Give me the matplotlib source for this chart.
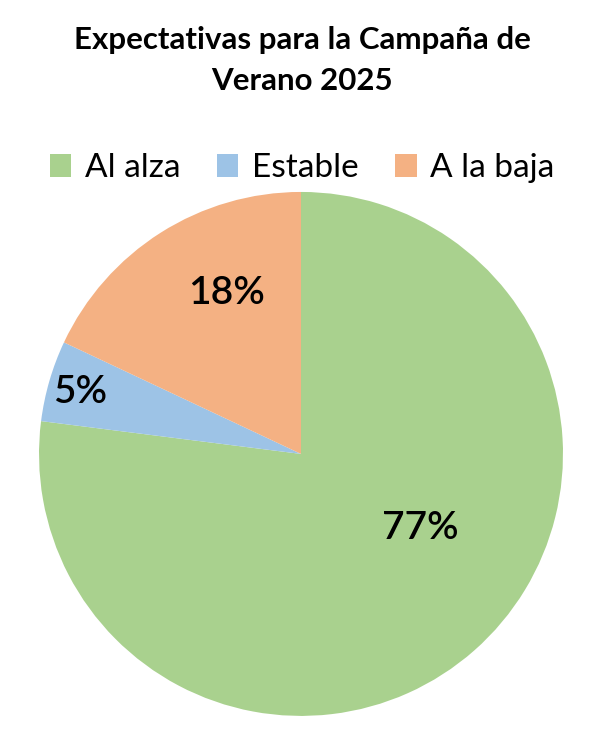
import matplotlib
matplotlib.use("Agg")
import matplotlib.pyplot as plt

categories = ["Al alza", "Estable", "A la baja"]
values = [77, 5, 18]
colors = ["#A9D18E", "#9DC3E6", "#F4B183"]
title = "Expectativas para la Campaña de\nVerano 2025"

fig = plt.figure(figsize=(6.04, 7.35), dpi=100)
fig.patch.set_facecolor("white")
ax = fig.add_axes([0.0646, 0.0259, 0.8675, 0.713])

wedges, texts, autotexts = ax.pie(
    values, colors=colors, startangle=90, counterclock=False,
    autopct=lambda p: f"{p:.0f}%", pctdistance=0.6,
    wedgeprops=dict(edgecolor="none"),
    textprops=dict(fontsize=28, family="Lato", fontweight="semibold", color="black"))
ax.set_aspect("equal")
ax.set_xlim(-1, 1)
ax.set_ylim(-1, 1)

label_pos = [(0.454, -0.282), (-0.843, 0.237), (-0.286, 0.615)]
for t, p in zip(autotexts, label_pos):
    t.set_position(p)
    t.set_ha("center")
    t.set_va("center")

fig.text(0.5, 0.918, title, ha="center", va="center", fontsize=22.5,
         fontweight="bold", family="Lato", linespacing=1.55)

fig.legend(wedges, categories, loc="center", bbox_to_anchor=(0.5, 0.771),
           ncol=3, frameon=False, prop=dict(family="Lato", size=24),
           handlelength=0.65, handleheight=0.65, handletextpad=0.4,
           columnspacing=1.1)

fig.savefig("out.png", dpi=100)
